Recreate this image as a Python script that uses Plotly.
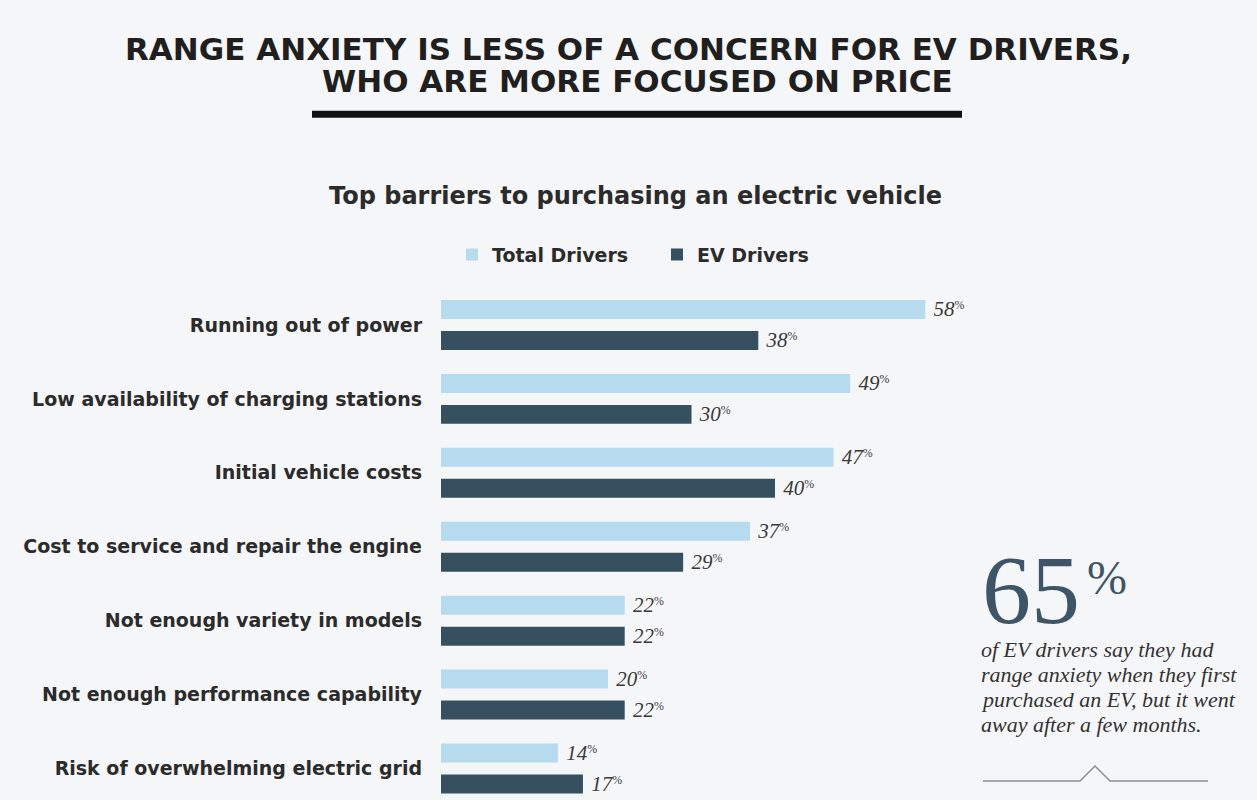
import plotly.graph_objects as go

categories = [
    "Running out of power",
    "Low availability of charging stations",
    "Initial vehicle costs",
    "Cost to service and repair the engine",
    "Not enough variety in models",
    "Not enough performance capability",
    "Risk of overwhelming electric grid",
]
total_drivers = [58, 49, 47, 37, 22, 20, 14]
ev_drivers = [38, 30, 40, 29, 22, 22, 17]
series_names = ["Total Drivers", "EV Drivers"]

W, H = 1257, 800
PL, PT, PB = 441, 287.5, 800
PW = W - PL
PH = PB - PT

def px(x):
    return (x - PL) / PW

def py(y):
    return (PB - y) / PH

LIGHT = "#b6daee"
DARK = "#37505f"
BG = "#f5f6f7"
SANS = "DejaVu Sans"
SERIF = "Liberation Serif"

fig = go.Figure()
for name, vals, col in [(series_names[0], total_drivers, LIGHT), (series_names[1], ev_drivers, DARK)]:
    fig.add_trace(go.Bar(
        y=categories, x=vals, name=name, orientation="h",
        marker=dict(color=col, line=dict(width=0)),
        texttemplate="&nbsp;<i>%{x}</i><span style='font-size:17px'><sup>%</sup></span>",
        textposition="outside", constraintext="none",
        textfont=dict(family=SERIF, size=21, color="#3a3a3a"),
        cliponaxis=False,
    ))

fig.update_layout(
    width=W, height=H,
    paper_bgcolor=BG, plot_bgcolor=BG,
    margin=dict(l=PL, r=0, t=PT, b=0),
    barmode="group", bargap=0.162, bargroupgap=0.387,
    showlegend=True,
    legend=dict(orientation="h", x=px(452), y=py(254), xanchor="left", yanchor="middle",
                font=dict(family=SANS, size=19, color="#2b2b2b", weight="bold"),
                bgcolor="rgba(0,0,0,0)", itemwidth=30, traceorder="normal",
                entrywidth=160, entrywidthmode="pixels"),
    xaxis=dict(range=[0, PW / 8.35], visible=False, showgrid=False, zeroline=False),
    yaxis=dict(categoryorder="array", categoryarray=categories,
               range=[-0.5 + PH / 74, -0.5], showgrid=False, zeroline=False,
               showline=False, ticks="", ticklabelstandoff=18,
               tickfont=dict(family=SANS, size=19, color="#2b2b2b", weight="bold")),
    font=dict(family=SANS),
)

ann = []
ann.append(dict(text="<b>RANGE ANXIETY IS LESS OF A CONCERN FOR EV DRIVERS,</b>",
                x=px(628), y=py(48), xref="paper", yref="paper", showarrow=False,
                xanchor="center", yanchor="middle",
                font=dict(family=SANS, size=31, color="#1f1f1f")))
ann.append(dict(text="<b>WHO ARE MORE FOCUSED ON PRICE</b>",
                x=px(637), y=py(80), xref="paper", yref="paper", showarrow=False,
                xanchor="center", yanchor="middle",
                font=dict(family=SANS, size=31, color="#1f1f1f")))
ann.append(dict(text="<b>Top barriers to purchasing an electric vehicle</b>",
                x=px(635), y=py(195), xref="paper", yref="paper", showarrow=False,
                xanchor="center", yanchor="middle",
                font=dict(family=SANS, size=24, color="#2b2b2b")))
ann.append(dict(text="65",
                x=px(980), y=py(590), xref="paper", yref="paper", showarrow=False,
                xanchor="left", yanchor="middle",
                font=dict(family=SERIF, size=98, color="#3d5566")))
ann.append(dict(text="%",
                x=px(1085), y=py(577), xref="paper", yref="paper", showarrow=False,
                xanchor="left", yanchor="middle",
                font=dict(family=SERIF, size=48, color="#3d5566")))
body_lines = ["of EV drivers say they had", "range anxiety when they first",
              "purchased an EV, but it went", "away after a few months."]
for i, line in enumerate(body_lines):
    ann.append(dict(text=f"<i>{line}</i>",
                    x=px(979), y=py(649 + 25 * i), xref="paper", yref="paper", showarrow=False,
                    xanchor="left", yanchor="middle", align="left",
                    font=dict(family=SERIF, size=22, color="#333333")))
fig.update_layout(annotations=ann)

fig.add_shape(type="rect", xref="paper", yref="paper",
              x0=px(312), x1=px(962), y0=py(110), y1=py(117),
              fillcolor="#111111", line=dict(width=0))
fig.add_shape(type="path", xref="paper", yref="paper",
              path=f"M {px(983)} {py(781)} L {px(1080)} {py(781)} L {px(1095)} {py(766)} L {px(1110)} {py(781)} L {px(1208)} {py(781)}",
              line=dict(color="#8a8f94", width=1.5))

fig.write_html("out.html", config={"displayModeBar": False},
               post_script="document.body.style.margin='0';document.body.style.background='%s';" % BG)
